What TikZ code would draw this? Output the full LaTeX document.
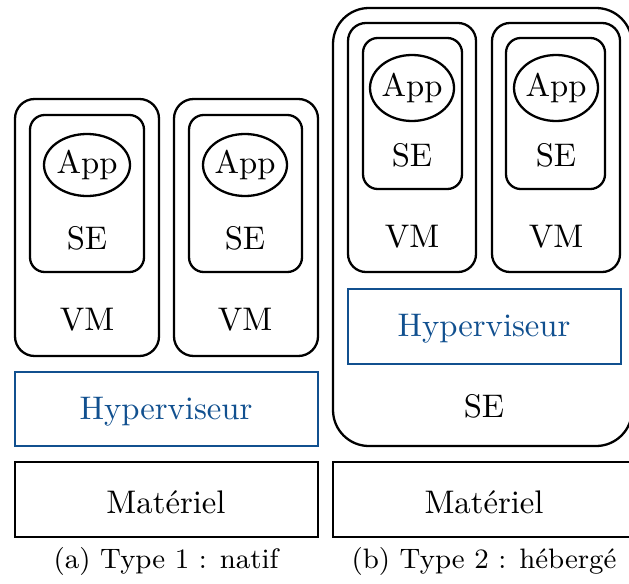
\documentclass[tikz,border=0pt]{standalone}
\usepackage{amsmath}
\usepackage{tikz}

\definecolor{hyperblue}{RGB}{17,80,143}

\begin{document}
\begin{tikzpicture}[x=0.306pt,y=0.306pt,yscale=-1,xscale=1,
    box/.style={line width=0.7pt},
    hyperbox/.style={draw=hyperblue,line width=0.7pt},
    lbl/.style={inner sep=0.75pt},
    hyperlbl/.style={inner sep=0.75pt,text=hyperblue},
    caption/.style={inner sep=0.75pt,font=\fontsize{8.6}{10}\selectfont}]
\useasboundingbox (0,0) rectangle (629,583);

%%%%%%%% (a) Type 1
%Shape: Rectangle [VM 1]
\draw [box, rounded corners=6pt] (15,99) rectangle (159,356) ;
%Shape: Rectangle [SE 1]
\draw [box, rounded corners=4.5pt] (30,115) rectangle (144,272) ;
%Shape: Ellipse [App 1]
\draw [box] (87,165) ellipse [x radius=43, y radius=31] ;
%Shape: Rectangle [VM 2]
\draw [box, rounded corners=6pt] (174,99) rectangle (318,356) ;
%Shape: Rectangle [SE 2]
\draw [box, rounded corners=4.5pt] (189,115) rectangle (302,272) ;
%Shape: Ellipse [App 2]
\draw [box] (245,165) ellipse [x radius=42, y radius=31] ;
%Shape: Rectangle [Hyperviseur]
\draw [hyperbox] (15,372) rectangle (318,446) ;
%Shape: Rectangle [Materiel]
\draw [box] (15,462) rectangle (318,537) ;

% Text Node
\node [lbl] (appA1) at (87,165) {App};
% Text Node
\node [lbl] (seA1) at (87,238) {SE};
% Text Node
\node [lbl] (vmA1) at (87,320) {VM};
% Text Node
\node [lbl] (appA2) at (245,165) {App};
% Text Node
\node [lbl] (seA2) at (245,238) {SE};
% Text Node
\node [lbl] (vmA2) at (245,320) {VM};
% Text Node
\node [hyperlbl] (hypA) at (166,412) {Hyperviseur};
% Text Node
\node [lbl] (matA) at (166,502) {Matériel};
% Text Node
\node [caption] (capA) at (166,561) {(a) Type 1 : natif};

%%%%%%%% (b) Type 2
%Shape: Rectangle [SE hote]
\draw [box, rounded corners=11pt] (333,8) rectangle (632,446) ;
%Shape: Rectangle [VM 1]
\draw [box, rounded corners=5.5pt] (348,23) rectangle (476,272) ;
%Shape: Rectangle [SE 1]
\draw [box, rounded corners=4.5pt] (363,38) rectangle (462,189) ;
%Shape: Ellipse [App 1]
\draw [box] (412,88) ellipse [x radius=42, y radius=33] ;
%Shape: Rectangle [VM 2]
\draw [box, rounded corners=5.5pt] (492,23) rectangle (620,272) ;
%Shape: Rectangle [SE 2]
\draw [box, rounded corners=4.5pt] (506,38) rectangle (605,189) ;
%Shape: Ellipse [App 2]
\draw [box] (556,88) ellipse [x radius=42, y radius=33] ;
%Shape: Rectangle [Hyperviseur]
\draw [hyperbox] (348,289) rectangle (621,364) ;
%Shape: Rectangle [Materiel]
\draw [box] (333,462) rectangle (632,537) ;

% Text Node
\node [lbl] (appB1) at (412,88) {App};
% Text Node
\node [lbl] (seB1) at (412,155) {SE};
% Text Node
\node [lbl] (vmB1) at (412,237) {VM};
% Text Node
\node [lbl] (appB2) at (556,88) {App};
% Text Node
\node [lbl] (seB2) at (556,155) {SE};
% Text Node
\node [lbl] (vmB2) at (556,237) {VM};
% Text Node
\node [hyperlbl] (hypB) at (484,329) {Hyperviseur};
% Text Node
\node [lbl] (seHote) at (484,406) {SE};
% Text Node
\node [lbl] (matB) at (484,502) {Matériel};
% Text Node
\node [caption] (capB) at (484,561) {(b) Type 2 : hébergé};

\end{tikzpicture}
\end{document}
